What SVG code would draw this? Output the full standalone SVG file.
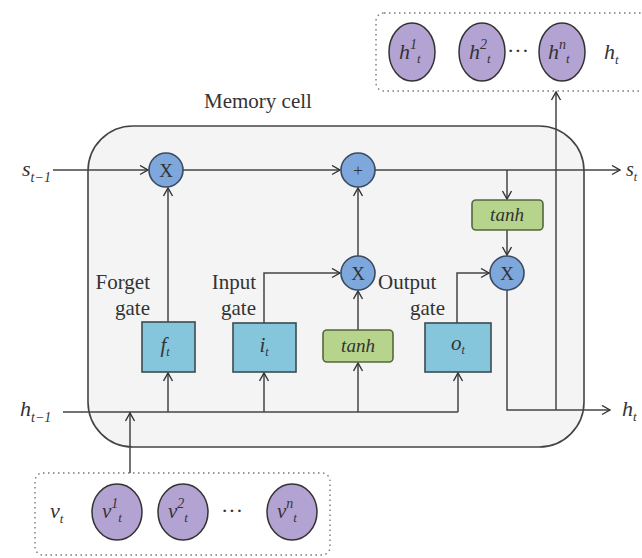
<svg xmlns="http://www.w3.org/2000/svg" width="642" height="558" viewBox="0 0 642 558">
<defs>
<marker id="arr" markerWidth="12" markerHeight="12" refX="9" refY="5" orient="auto" markerUnits="userSpaceOnUse">
<path d="M1,0.5 L9,5 L1,9.5" fill="none" stroke="#333" stroke-width="1.4"/>
</marker>
<style>
.t{font-family:"Liberation Serif",serif;fill:#333;}
.lbl{font-size:21px;}
.m{font-style:italic;}
.ln{fill:none;stroke:#444;stroke-width:1.5;}
.op{fill:#7ea8dc;stroke:#3a4a60;stroke-width:1.6;}
.gate{fill:#86c6dc;stroke:#3c4a50;stroke-width:1.6;}
.th{fill:#b7d48c;stroke:#56663c;stroke-width:1.6;}
.pc{fill:#b3a3d3;stroke:#333;stroke-width:1.5;}
.dot{fill:#fff;stroke:#777;stroke-width:1.4;stroke-dasharray:1.5 3.5;}
</style>
</defs>
<rect width="642" height="558" fill="#fff"/>

<g id="memory-cell">
<rect x="88" y="126" width="496" height="321" rx="45" fill="#f4f4f4" stroke="#444" stroke-width="1.6"/>
<text class="t" x="258" y="108" font-size="21" text-anchor="middle">Memory cell</text>
</g>

<g id="output-h">
<rect class="dot" x="376" y="13" width="280" height="78" rx="8"/>
<ellipse class="pc" cx="412" cy="52" rx="23" ry="29"/>
<text class="t m" x="399" y="59" font-size="22">h<tspan font-size="14" dy="-10">1</tspan><tspan font-size="13" dy="14">t</tspan></text>
<ellipse class="pc" cx="482" cy="52" rx="23" ry="29"/>
<text class="t m" x="469" y="59" font-size="22">h<tspan font-size="14" dy="-10">2</tspan><tspan font-size="13" dy="14">t</tspan></text>
<text class="t" x="518" y="58" font-size="22" text-anchor="middle">···</text>
<ellipse class="pc" cx="562" cy="52" rx="23" ry="29"/>
<text class="t m" x="548" y="59" font-size="22">h<tspan font-size="14" dy="-10">n</tspan><tspan font-size="13" dy="14">t</tspan></text>
<text class="t m" x="604" y="59" font-size="22">h<tspan font-size="13" dy="5">t</tspan></text>
</g>

<g id="input-v">
<rect class="dot" x="35" y="473" width="295" height="82" rx="8"/>
<text class="t m" x="50" y="518" font-size="22">v<tspan font-size="13" dy="5">t</tspan></text>
<ellipse class="pc" cx="117" cy="512" rx="25" ry="28"/>
<text class="t m" x="102" y="518" font-size="21">v<tspan font-size="14" dy="-10">1</tspan><tspan font-size="13" dy="14">t</tspan></text>
<ellipse class="pc" cx="183" cy="512" rx="25" ry="28"/>
<text class="t m" x="168" y="518" font-size="21">v<tspan font-size="14" dy="-10">2</tspan><tspan font-size="13" dy="14">t</tspan></text>
<text class="t" x="232" y="518" font-size="22" text-anchor="middle">···</text>
<ellipse class="pc" cx="292" cy="512" rx="25" ry="28"/>
<text class="t m" x="277" y="518" font-size="21">v<tspan font-size="14" dy="-10">n</tspan><tspan font-size="13" dy="14">t</tspan></text>
</g>

<g id="connectors">
<line class="ln" x1="53" y1="170" x2="148" y2="170" marker-end="url(#arr)"/>
<line class="ln" x1="183" y1="170" x2="340" y2="170" marker-end="url(#arr)"/>
<line class="ln" x1="375" y1="170" x2="620" y2="170" marker-end="url(#arr)"/>
<line class="ln" x1="507" y1="170" x2="507" y2="199" marker-end="url(#arr)"/>
<line class="ln" x1="507" y1="230" x2="507" y2="255" marker-end="url(#arr)"/>
<line class="ln" x1="168" y1="322" x2="168" y2="188" marker-end="url(#arr)"/>
<polyline class="ln" points="264,323 264,273 340,273" marker-end="url(#arr)"/>
<line class="ln" x1="358" y1="256" x2="358" y2="188" marker-end="url(#arr)"/>
<line class="ln" x1="358" y1="330" x2="358" y2="291" marker-end="url(#arr)"/>
<polyline class="ln" points="457,323 457,273 489,273" marker-end="url(#arr)"/>
<line class="ln" x1="63" y1="412" x2="458" y2="412"/>
<line class="ln" x1="168" y1="412" x2="168" y2="373" marker-end="url(#arr)"/>
<line class="ln" x1="264" y1="412" x2="264" y2="373" marker-end="url(#arr)"/>
<line class="ln" x1="358" y1="412" x2="358" y2="363" marker-end="url(#arr)"/>
<line class="ln" x1="458" y1="412" x2="458" y2="373" marker-end="url(#arr)"/>
<line class="ln" x1="130" y1="473" x2="130" y2="413" marker-end="url(#arr)"/>
<polyline class="ln" points="507,290 507,410 610,410" marker-end="url(#arr)"/>
<line class="ln" x1="556" y1="410" x2="556" y2="92" marker-end="url(#arr)"/>
</g>

<g id="labels">
<text class="t m" x="22" y="176" font-size="22">s<tspan font-size="14" dy="6">t−1</tspan></text>
<text class="t m" x="626" y="176" font-size="20">s<tspan font-size="12" dy="5">t</tspan></text>
<text class="t m" x="20" y="416" font-size="22">h<tspan font-size="14" dy="6">t−1</tspan></text>
<text class="t m" x="622" y="416" font-size="22">h<tspan font-size="13" dy="5">t</tspan></text>
<text class="t lbl" x="150" y="289" text-anchor="end">Forget</text>
<text class="t lbl" x="150" y="315" text-anchor="end">gate</text>
<text class="t lbl" x="256" y="289" text-anchor="end">Input</text>
<text class="t lbl" x="256" y="315" text-anchor="end">gate</text>
<text class="t lbl" x="378" y="289">Output</text>
<text class="t lbl" x="445" y="315" text-anchor="end">gate</text>
</g>

<g id="forget-mult">
<circle class="op" cx="166" cy="170" r="17"/>
<text class="t" x="166" y="177" font-size="19" text-anchor="middle">X</text>
</g>
<g id="add">
<circle class="op" cx="358" cy="170" r="17"/>
<text class="t" x="358" y="176" font-size="17" text-anchor="middle">+</text>
</g>
<g id="input-mult">
<circle class="op" cx="358" cy="273" r="17"/>
<text class="t" x="358" y="280" font-size="19" text-anchor="middle">X</text>
</g>
<g id="output-mult">
<circle class="op" cx="507" cy="273" r="17"/>
<text class="t" x="507" y="280" font-size="19" text-anchor="middle">X</text>
</g>
<g id="tanh-out">
<rect class="th" x="472" y="200" width="71" height="30" rx="4"/>
<text class="t m" x="507" y="221" font-size="19" text-anchor="middle">tanh</text>
</g>
<g id="forget-gate">
<rect class="gate" x="142" y="322" width="53" height="50"/>
<text class="t m" x="165" y="352" font-size="21" text-anchor="middle">f<tspan font-size="12" dy="4">t</tspan></text>
</g>
<g id="input-gate">
<rect class="gate" x="233" y="323" width="63" height="49"/>
<text class="t m" x="264" y="352" font-size="21" text-anchor="middle">i<tspan font-size="12" dy="4">t</tspan></text>
</g>
<g id="tanh-in">
<rect class="th" x="323" y="330" width="70" height="32" rx="4"/>
<text class="t m" x="358" y="352" font-size="19" text-anchor="middle">tanh</text>
</g>
<g id="output-gate">
<rect class="gate" x="425" y="323" width="66" height="49"/>
<text class="t m" x="458" y="350" font-size="21" text-anchor="middle">o<tspan font-size="12" dy="4">t</tspan></text>
</g>
</svg>
